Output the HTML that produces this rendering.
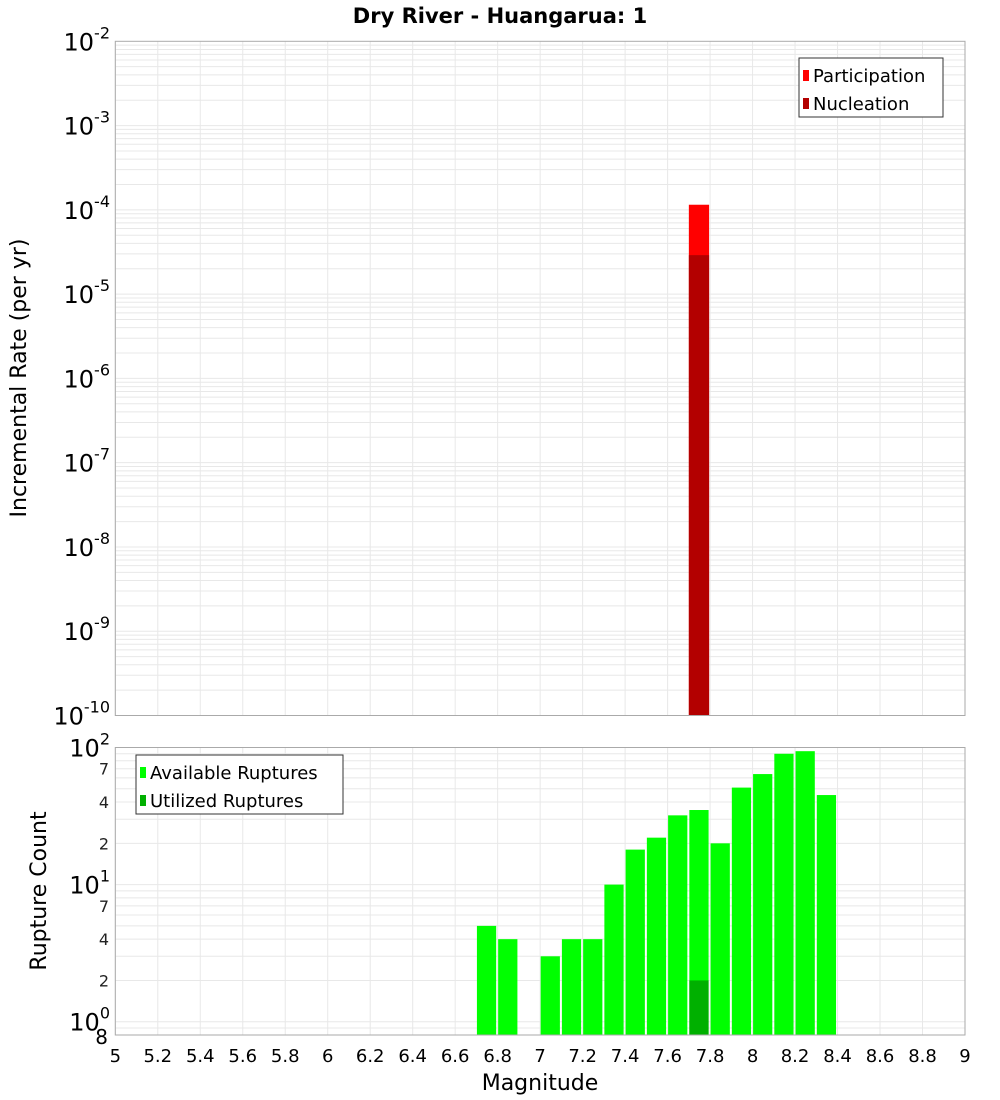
<!DOCTYPE html>
<html><head><meta charset="utf-8">
<style>
html,body{margin:0;padding:0;background:#fff;}
svg{display:block;font-family:"DejaVu Sans","Liberation Sans",sans-serif;}
</style></head>
<body>
<svg id="chart" width="1000" height="1100" viewBox="0 0 1000 1100" xmlns="http://www.w3.org/2000/svg">
<text x="500" y="23" text-anchor="middle" font-size="21" font-weight="bold">Dry River - Huangarua: 1</text>
<g id="topPanel"></g>
<g id="botPanel"></g>
<text transform="translate(26,378) rotate(-90)" text-anchor="middle" font-size="22">Incremental Rate (per yr)</text>
<text transform="translate(46,891) rotate(-90)" text-anchor="middle" font-size="22">Rupture Count</text>
<text x="540" y="1090" text-anchor="middle" font-size="22">Magnitude</text>
</svg>
<script>
// data
const xTicks = [5,5.2,5.4,5.6,5.8,6,6.2,6.4,6.6,6.8,7,7.2,7.4,7.6,7.8,8,8.2,8.4,8.6,8.8,9];
const rateMags = [7.7];
const participationRates = [1.15e-4];
const nucleationRates = [2.9e-5];
const countMags = [6.7,6.8,7.0,7.1,7.2,7.3,7.4,7.5,7.6,7.7,7.8,7.9,8.0,8.1,8.2,8.3];
const availableCounts = [5,4,3,4,4,10,18,22,32,35,20,51,64,90,94,45];
const utilizedMags = [7.7];
const utilizedCounts = [2];
const topDecades = [-10,-9,-8,-7,-6,-5,-4,-3,-2];
const botDecades = [0,1,2];
const botMinorLabels = [2,4,7];

const NS = "http://www.w3.org/2000/svg";
const X0 = 115.3, X1 = 965, XMIN = 5, XMAX = 9;
const xs = v => X0 + (v - XMIN) / (XMAX - XMIN) * (X1 - X0);
const T0 = 41.3, T1 = 715.5, TMIN = -10, TMAX = -2;
const yt = v => T1 - (Math.log10(v) - TMIN) / (TMAX - TMIN) * (T1 - T0);
const B0 = 747.5, B1 = 1035, BMIN = Math.log10(0.8), BMAX = 2;
const yb = v => B1 - (Math.log10(v) - BMIN) / (BMAX - BMIN) * (B1 - B0);

function mk(parent, tag, attrs, text) {
  const e = document.createElementNS(NS, tag);
  for (const k in attrs) e.setAttribute(k, attrs[k]);
  if (text !== undefined) e.textContent = text;
  parent.appendChild(e);
  return e;
}
const gTop = document.getElementById('topPanel');
const gBot = document.getElementById('botPanel');

function panel(g, y0, y1, yfun, decMin, decMax, name) {
  const bg = mk(g, 'rect', {x: X0, y: y0, width: X1 - X0, height: y1 - y0, fill: '#fff'});
  
  
  for (const t of xTicks) {
    const l = mk(g, 'line', {x1: xs(t), x2: xs(t), y1: y0, y2: y1, stroke: '#e8e8e8', 'stroke-width': 1});
    
    
  }
  for (let d = decMin; d <= decMax; d++) {
    for (let m = 1; m <= 9; m++) {
      const v = m * Math.pow(10, d);
      const y = yfun(v);
      if (y < y0 - 0.5 || y > y1 + 0.5) continue;
      const l = mk(g, 'line', {x1: X0, x2: X1, y1: y, y2: y, stroke: '#e8e8e8', 'stroke-width': 1});
      
      
    }
  }
}
panel(gTop, T0, T1, yt, -10, -3, 'top');
panel(gBot, B0, B1, yb, -1, 1, 'bottom');

// top bars
rateMags.forEach((m, i) => {
  const r = mk(gTop, 'rect', {x: xs(m), y: yt(participationRates[i]), width: xs(m + 0.1) - xs(m) - 1, height: T1 - yt(participationRates[i]), fill: '#ff0000'});
  
  
  const n = mk(gTop, 'rect', {x: xs(m), y: yt(nucleationRates[i]), width: xs(m + 0.1) - xs(m) - 1, height: T1 - yt(nucleationRates[i]), fill: '#b30000'});
  
  
});
// bottom bars
countMags.forEach((m, i) => {
  const r = mk(gBot, 'rect', {x: xs(m) + 0.5, y: yb(availableCounts[i]), width: xs(m + 0.1) - xs(m) - 2, height: B1 - yb(availableCounts[i]), fill: '#00ff00'});
  
  
});
utilizedMags.forEach((m, i) => {
  const r = mk(gBot, 'rect', {x: xs(m) + 0.5, y: yb(utilizedCounts[i]), width: xs(m + 0.1) - xs(m) - 2, height: B1 - yb(utilizedCounts[i]), fill: '#00b000'});
  
  
});

// borders
[[T0, T1, gTop], [B0, B1, gBot]].forEach(([a, b, g]) => {
  const f = mk(g, 'rect', {x: X0, y: a, width: X1 - X0, height: b - a, fill: 'none', stroke: '#aaa', 'stroke-width': 1});
  
  
});

// top y labels
topDecades.forEach(d => {
  const y = yt(Math.pow(10, d));
  const t = mk(gTop, 'text', {x: 110, y: y + 9, 'text-anchor': 'end', 'font-size': 24});
  
  
  mk(t, 'tspan', {}, '10');
  mk(t, 'tspan', {'font-size': 16, dy: -12}, String(d));
});
// bottom y labels
botDecades.forEach(d => {
  const y = yb(Math.pow(10, d));
  const t = mk(gBot, 'text', {x: 110, y: y + 9, 'text-anchor': 'end', 'font-size': 24});
  
  
  mk(t, 'tspan', {}, '10');
  mk(t, 'tspan', {'font-size': 16, dy: -12}, String(d));
  if (d < 2) {
    botMinorLabels.forEach(m => {
      const mt = mk(gBot, 'text', {x: 109, y: yb(m * Math.pow(10, d)) + 6, 'text-anchor': 'end', 'font-size': 16, fill: '#222'}, String(m));
      
      
    });
  }
});
const e8 = mk(gBot, 'text', {x: 108, y: 1044, 'text-anchor': 'end', 'font-size': 20}, '8');



// x labels
xTicks.forEach(t => {
  const l = mk(gBot, 'text', {x: xs(t), y: 1062, 'text-anchor': 'middle', 'font-size': 18}, String(t));
  
  
});

// legends
function legend(g, x, y, w, h, items, name) {
  const b = mk(g, 'rect', {x: x, y: y, width: w, height: h, fill: '#fff', stroke: '#333', 'stroke-width': 1});
  
  
  items.forEach(([c, label], i) => {
    const sw = mk(g, 'rect', {x: x + 4, y: y + 12 + i * 28, width: 6, height: 11, fill: c});
    
    
    const t = mk(g, 'text', {x: x + 14, y: y + 24 + i * 28, 'font-size': 18}, label);
    
    
  });
}
legend(gTop, 799, 58, 144, 59, [['#ff0000', 'Participation'], ['#b30000', 'Nucleation']], 'top-legend');
legend(gBot, 136, 755, 207, 59, [['#00ff00', 'Available Ruptures'], ['#00b000', 'Utilized Ruptures']], 'bottom-legend');
</script>
</body></html>
